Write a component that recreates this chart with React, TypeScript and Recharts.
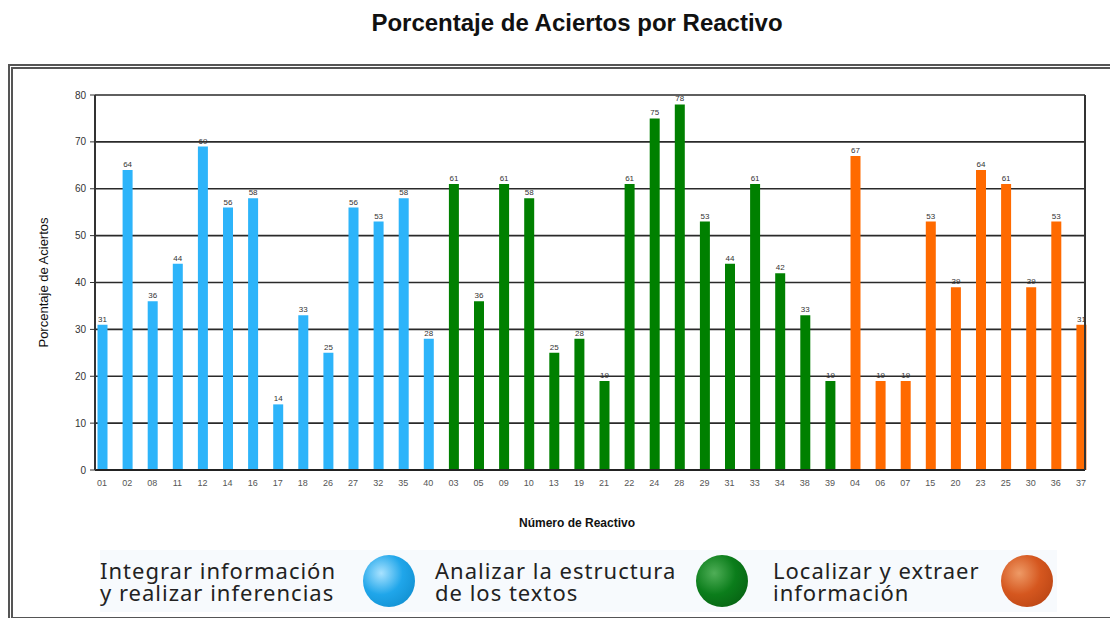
import { Bar, BarChart, CartesianGrid, Cell, LabelList, XAxis, YAxis } from 'recharts';

const reactivosIntegrar = ['01', '02', '08', '11', '12', '14', '16', '17', '18', '26', '27', '32', '35', '40'];
const aciertosIntegrar = [31, 64, 36, 44, 69, 56, 58, 14, 33, 25, 56, 53, 58, 28];
const reactivosAnalizar = ['03', '05', '09', '10', '13', '19', '21', '22', '24', '28', '29', '31', '33', '34', '38', '39'];
const aciertosAnalizar = [61, 36, 61, 58, 25, 28, 19, 61, 75, 78, 53, 44, 61, 42, 33, 19];
const reactivosLocalizar = ['04', '06', '07', '15', '20', '23', '25', '30', '36', '37'];
const aciertosLocalizar = [67, 19, 19, 53, 39, 64, 61, 39, 53, 31];
const yTicks = [0, 10, 20, 30, 40, 50, 60, 70, 80];

const grupos = [
  { nombre: ['Integrar información', 'y realizar inferencias'], reactivos: reactivosIntegrar, aciertos: aciertosIntegrar },
  { nombre: ['Analizar la estructura', 'de los textos'], reactivos: reactivosAnalizar, aciertos: aciertosAnalizar },
  { nombre: ['Localizar y extraer', 'información'], reactivos: reactivosLocalizar, aciertos: aciertosLocalizar },
];

// colores de barra y de la esfera de la leyenda (brillo, base, sombra)
const barColors = ['#2db4fa', '#008000', '#ff6a00'];
const sphereColors = [
  ['#a8e2ff', '#20a6ea', '#0b86c6'],
  ['#4fae57', '#0b7d1b', '#05570f'],
  ['#ee9a66', '#d5571f', '#b03e10'],
];
const legendText = [263, 261, 228];
const legendItem = [335, 338, 284];

const data = grupos.flatMap((g, gi) => g.reactivos.map((r, i) => ({ reactivo: r, aciertos: g.aciertos[i], grupo: gi })));

const font = '"Liberation Sans", Arial, sans-serif';

export default function App() {
  return (
    <div style={{ position: 'absolute', left: 0, top: 0, width: 1110, height: 618, overflow: 'hidden', background: '#fff', fontFamily: font }}>
      <div style={{ position: 'absolute', left: 0, top: 9, width: 1110, paddingLeft: 44, boxSizing: 'border-box', textAlign: 'center', fontSize: 24, fontWeight: 700, color: '#111', fontFamily: '"Liberation Sans Narrow", "Liberation Sans", Arial, sans-serif' }}>
        Porcentaje de Aciertos por Reactivo
      </div>
      <div style={{ position: 'absolute', left: 8, top: 64, width: 1130, height: 548, border: '5px double #555' }} />
      <div style={{ position: 'absolute', left: 0, top: 0 }}>
        <BarChart width={1110} height={540} data={data} margin={{ top: 95, right: 24, bottom: 10, left: 35 }}>
          <CartesianGrid vertical={false} stroke="#2a2a2a" strokeWidth={1.6} />
          <XAxis
            dataKey="reactivo"
            interval={0}
            padding={{ left: -5.5, right: -8.5 }}
            height={60}
            tickSize={0}
            tickMargin={10}
            tick={{ fontSize: 9, fill: '#555' }}
            axisLine={{ stroke: '#222', strokeWidth: 2 }}
            label={{ value: 'Número de Reactivo', position: 'insideBottom', offset: 3, dx: -13, style: { fontSize: 12, fontWeight: 700, fill: '#111' } }}
          />
          <YAxis
            domain={[0, 80]}
            ticks={yTicks}
            width={60}
            tickSize={5}
            tickMargin={4}
            tick={{ fontSize: 10, fill: '#333' }}
            tickLine={{ stroke: '#333' }}
            axisLine={{ stroke: '#333', strokeWidth: 2 }}
            label={{ value: 'Porcentaje de Aciertos', angle: -90, position: 'insideLeft', offset: 8, style: { fontSize: 13, fill: '#111', textAnchor: 'middle' } }}
          />
          <YAxis yAxisId="der" orientation="right" domain={[0, 80]} ticks={yTicks} tick={false} tickLine={false} width={1} axisLine={{ stroke: '#333', strokeWidth: 2 }} />
          <Bar dataKey="aciertos" barSize={10} isAnimationActive={false}>
            {data.map((d) => (
              <Cell key={d.reactivo} fill={barColors[d.grupo]} />
            ))}
            <LabelList dataKey="aciertos" position="top" offset={3} style={{ fontSize: 8, fill: '#333' }} />
          </Bar>
        </BarChart>
      </div>
      <div style={{ position: 'absolute', left: 100, top: 550, width: 957, height: 62, background: '#f7fafd', display: 'flex', alignItems: 'center', fontFamily: '"Noto Sans", sans-serif' }}>
        {grupos.map((g, gi) => (
          <div key={gi} style={{ width: legendItem[gi], flexShrink: 0, display: 'flex', alignItems: 'center' }}>
            <div style={{ width: legendText[gi], flexShrink: 0, fontSize: 22, lineHeight: '22px', letterSpacing: 1, color: '#222', whiteSpace: 'nowrap' }}>
              {g.nombre[0]}
              <br />
              {g.nombre[1]}
            </div>
            <div
              style={{
                width: 52,
                height: 52,
                flexShrink: 0,
                borderRadius: '50%',
                background: `radial-gradient(circle at 35% 35%, ${sphereColors[gi][0]} 0%, ${sphereColors[gi][1]} 45%, ${sphereColors[gi][2]} 100%)`,
              }}
            />
          </div>
        ))}
      </div>
    </div>
  );
}
